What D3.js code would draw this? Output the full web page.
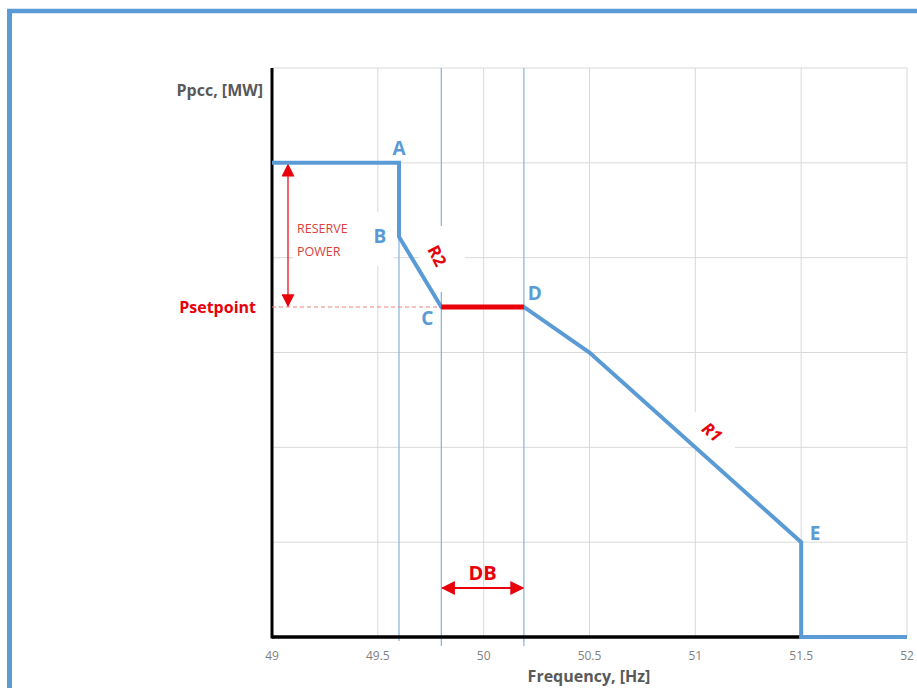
<!DOCTYPE html>
<html>
<head>
<meta charset="utf-8">
<script src="https://cdn.jsdelivr.net/npm/d3@7"></script>
<style>
  html, body { margin: 0; padding: 0; background: #fff; }
  svg { display: block; font-family: "Open Sans", "Liberation Sans", sans-serif; }
</style>
</head>
<body>
<svg id="chart" width="917" height="688"></svg>
<script>
// ---- data ----
const frequency = [49, 49.6, 49.6, 49.8, 50.19, 50.5, 51.5, 51.5, 52];
const power     = [5, 5, 4.22, 3.48, 3.48, 3.0, 1.0, 0, 0];
const deadBand  = [49.8, 50.19];
const pSetpoint = 3.48;
const markerFreqs = [49.6, 49.8, 50.19];
const xTicks = [49, 49.5, 50, 50.5, 51, 51.5, 52];
const yGrid = [0, 1, 2, 3, 4, 5, 6];
const pointLabels = ["A", "B", "C", "D", "E"];
const pointFreq   = [49.6, 49.6, 49.8, 50.19, 51.5];
const pointPower  = [5, 4.22, 3.48, 3.48, 1.0];

const BLUE = "#5b9bd5", RED = "#e8000b", GRAY = "#595959", GRID = "#d9d9d9";

const svg = d3.select("#chart");
const x = d3.scaleLinear().domain([49, 52]).range([272, 907]);
const y = d3.scaleLinear().domain([0, 6]).range([637, 68]);

// frame
svg.append("line").attr("x1", 7).attr("x2", 917).attr("y1", 11).attr("y2", 11)
  .attr("stroke", BLUE).attr("stroke-width", 4.5);
svg.append("line").attr("x1", 9.5).attr("x2", 9.5).attr("y1", 9).attr("y2", 688)
  .attr("stroke", BLUE).attr("stroke-width", 5);

// defs arrowheads
const defs = svg.append("defs");
function marker(id, size) {
  defs.append("marker").attr("id", id).attr("viewBox", "0 0 10 10")
    .attr("refX", 9).attr("refY", 5).attr("markerWidth", size).attr("markerHeight", size)
    .attr("markerUnits", "userSpaceOnUse").attr("orient", "auto-start-reverse")
    .append("path").attr("d", "M0,0 L10,5 L0,10 Z").attr("fill", RED);
}
marker("arrSmall", 13);
marker("arrDB", 14);

// grid
const gridG = svg.append("g");
gridG.selectAll(".vg").data(xTicks).join("line")
  .attr("x1", d => x(d)).attr("x2", d => x(d)).attr("y1", y(6)).attr("y2", y(0))
  .attr("stroke", GRID).attr("stroke-width", 1);
gridG.selectAll(".hg").data(yGrid).join("line")
  .attr("x1", x(49)).attr("x2", x(52)).attr("y1", d => y(d)).attr("y2", d => y(d))
  .attr("stroke", GRID).attr("stroke-width", 1);

// marker vertical lines (49.8, 50.2)
svg.selectAll(".mk").data(markerFreqs.slice(1)).join("line")
  .attr("x1", d => x(d)).attr("x2", d => x(d)).attr("y1", y(6)).attr("y2", y(0) + 9)
  .attr("stroke", "#8db8e0").attr("stroke-width", 1.3);

// white label backgrounds
svg.append("rect").attr("x", 293).attr("y", 212).attr("width", 100).attr("height", 54).attr("fill", "#fff");
svg.append("rect").attr("x", 419).attr("y", 226).attr("width", 46).attr("height", 66).attr("fill", "#fff");
svg.append("rect").attr("x", 693).attr("y", 412).attr("width", 42).attr("height", 38).attr("fill", "#fff");

// marker 49.6
svg.append("line").attr("x1", x(markerFreqs[0])).attr("x2", x(markerFreqs[0]))
  .attr("y1", y(5)).attr("y2", y(0) + 4)
  .attr("stroke", "#8db8e0").attr("stroke-width", 1.3);

// axes
svg.append("line").attr("x1", x(49)).attr("x2", x(49)).attr("y1", y(6)).attr("y2", y(0) + 1.5)
  .attr("stroke", "#000").attr("stroke-width", 3);
svg.append("line").attr("x1", x(49)).attr("x2", x(52)).attr("y1", y(0)).attr("y2", y(0))
  .attr("stroke", "#000").attr("stroke-width", 3.5);

// tick labels
svg.selectAll(".tl").data(xTicks).join("text")
  .attr("x", d => x(d)).attr("y", 660).attr("text-anchor", "middle")
  .attr("font-size", 12).attr("fill", "#7f7f7f").text(d => d);

// axis titles
svg.append("text").attr("x", 263).attr("y", 96).attr("text-anchor", "end")
  .attr("font-size", 16).attr("font-weight", "bold").attr("fill", GRAY).text("Ppcc, [MW]");
svg.append("text").attr("x", 589).attr("y", 682).attr("text-anchor", "middle")
  .attr("font-size", 16).attr("font-weight", "bold").attr("fill", GRAY).text("Frequency, [Hz]");

// setpoint dashed line
svg.append("line").attr("x1", x(49)).attr("x2", x(deadBand[0])).attr("y1", y(pSetpoint)).attr("y2", y(pSetpoint))
  .attr("stroke", "#f08080").attr("stroke-width", 1).attr("stroke-dasharray", "4,3");
svg.append("text").attr("x", 256).attr("y", 313).attr("text-anchor", "end")
  .attr("font-size", 16).attr("font-weight", "bold").attr("fill", RED).text("Psetpoint");

// reserve power arrow
svg.append("line").attr("x1", 288).attr("x2", 288).attr("y1", y(5) + 2).attr("y2", y(pSetpoint) - 1)
  .attr("stroke", RED).attr("stroke-width", 1.2)
  .attr("marker-start", "url(#arrSmall)").attr("marker-end", "url(#arrSmall)");
svg.append("text").attr("x", 297).attr("y", 233).attr("font-size", 12.5).attr("fill", "#d9413a").text("RESERVE");
svg.append("text").attr("x", 297).attr("y", 256).attr("font-size", 12.5).attr("fill", "#d9413a").text("POWER");

// series
const pts = frequency.map((f, i) => [f, power[i]]);
const line = d3.line().x(d => x(d[0])).y(d => y(d[1]));
svg.append("path").datum(pts).attr("d", line)
  .attr("fill", "none").attr("stroke", BLUE).attr("stroke-width", 4).attr("stroke-linejoin", "miter");

// dead band segment
svg.append("path").datum([[deadBand[0], pSetpoint], [deadBand[1], pSetpoint]]).attr("d", line)
  .attr("stroke", RED).attr("stroke-width", 5);

// point labels
const lblOff = [[0, -8], [-19, 6], [-14, 18], [11, -7], [14, -2]];
svg.selectAll(".pl").data(pointLabels).join("text")
  .attr("x", (d, i) => x(pointFreq[i]) + lblOff[i][0])
  .attr("y", (d, i) => y(pointPower[i]) + lblOff[i][1])
  .attr("text-anchor", "middle").attr("font-size", 19).attr("font-weight", "bold")
  .attr("fill", BLUE).text(d => d);

// slope labels
svg.append("text").attr("transform", "translate(437,256) rotate(63)")
  .attr("text-anchor", "middle").attr("dy", "0.35em")
  .attr("font-size", 17).attr("font-weight", "bold").attr("fill", RED).text("R2");
svg.append("text").attr("transform", "translate(712,432) rotate(40)")
  .attr("text-anchor", "middle").attr("dy", "0.35em")
  .attr("font-size", 17).attr("font-weight", "bold").attr("font-style", "italic").attr("fill", RED).text("R1");

// dead band arrow
svg.append("line").attr("x1", x(deadBand[0]) + 1).attr("x2", x(deadBand[1]) - 1).attr("y1", 588).attr("y2", 588)
  .attr("stroke", RED).attr("stroke-width", 2)
  .attr("marker-start", "url(#arrDB)").attr("marker-end", "url(#arrDB)");
svg.append("text").attr("x", (x(deadBand[0]) + x(deadBand[1])) / 2).attr("y", 580)
  .attr("text-anchor", "middle").attr("font-size", 20).attr("font-weight", "bold").attr("fill", RED).text("DB");
</script>
</body>
</html>
